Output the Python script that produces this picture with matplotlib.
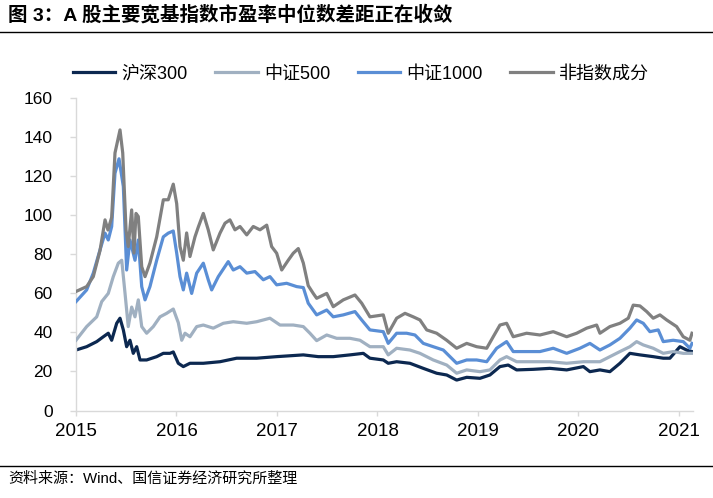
import matplotlib
matplotlib.use("Agg")
import matplotlib.pyplot as plt
from matplotlib.lines import Line2D

plt.rcParams['font.family'] = ['Liberation Sans', 'Noto Sans CJK SC', 'DejaVu Sans']

# ---------------- data (decimal year, PE median) ----------------
hs300_t = [2015.0, 2015.106, 2015.206, 2015.272, 2015.321, 2015.355, 2015.405, 2015.438, 2015.471,
           2015.504, 2015.537, 2015.57, 2015.604, 2015.637, 2015.703, 2015.803, 2015.869, 2015.935,
           2015.968, 2016.018, 2016.068, 2016.134, 2016.267, 2016.433, 2016.599, 2016.798, 2016.997,
           2017.262, 2017.411, 2017.56, 2017.726, 2017.859, 2017.925, 2018.058, 2018.107, 2018.191,
           2018.323, 2018.456, 2018.589, 2018.689, 2018.788, 2018.888, 2019.02, 2019.119, 2019.219,
           2019.301, 2019.385, 2019.55, 2019.716, 2019.883, 2020.049, 2020.114, 2020.214, 2020.313,
           2020.413, 2020.512, 2020.612, 2020.744, 2020.844, 2020.91, 2021.01, 2021.076, 2021.13]
hs300_v = [31, 32.7, 35.3, 37.8, 39.6, 36, 44.7, 47.3, 41.3,
           32.7, 36, 29.3, 32.7, 25.9, 25.9, 27.6, 29.3, 29.3,
           30, 24.2, 22.5, 24.2, 24.2, 25, 26.8, 26.8, 27.6,
           28.5, 27.6, 27.6, 28.5, 29.3, 26.8, 25.9, 24.2, 25,
           24.2, 21.6, 19.1, 18.2, 15.6, 17, 16.5, 18.2, 22.5,
           23.3, 20.8, 21.1, 21.6, 20.8, 22.5, 19.9, 20.8, 19.9,
           24.2, 29.3, 28.5, 27.6, 26.8, 26.8, 32.7, 31, 30.2]

zz500_t = [2015.0, 2015.106, 2015.206, 2015.256, 2015.321, 2015.371, 2015.421, 2015.455, 2015.488,
           2015.52, 2015.554, 2015.587, 2015.62, 2015.654, 2015.703, 2015.769, 2015.836, 2015.902,
           2015.968, 2016.018, 2016.052, 2016.085, 2016.134, 2016.201, 2016.267, 2016.366, 2016.466,
           2016.565, 2016.699, 2016.798, 2016.93, 2017.03, 2017.162, 2017.262, 2017.328, 2017.395,
           2017.495, 2017.594, 2017.726, 2017.826, 2017.925, 2018.058, 2018.107, 2018.191, 2018.323,
           2018.423, 2018.555, 2018.689, 2018.788, 2018.888, 2019.02, 2019.119, 2019.219, 2019.285,
           2019.385, 2019.55, 2019.716, 2019.883, 2020.049, 2020.214, 2020.313, 2020.413, 2020.512,
           2020.579, 2020.645, 2020.744, 2020.844, 2020.943, 2021.043, 2021.13]
zz500_v = [36, 43, 48, 55.8, 60, 68.6, 75.5, 77, 60,
           43, 53, 48, 56.7, 43, 39.6, 43, 48, 49.8,
           52, 45, 36, 39.6, 37.8, 43, 43.8, 42.2, 44.7,
           45.5, 44.7, 45.5, 47.3, 43.8, 43.8, 43, 39.6, 35.8,
           38.7, 37, 37, 36, 32.7, 32.7, 28.5, 31.9, 31,
           29.3, 25.9, 23.3, 19.1, 20.8, 19.9, 20.8, 25.9, 27.6,
           25, 25, 25, 24.2, 25, 25, 27.6, 30.2, 32.7,
           35.3, 33.6, 31.9, 29.3, 30.2, 29.3, 29.3]

zz1000_t = [2015.0, 2015.106, 2015.172, 2015.239, 2015.289, 2015.321, 2015.355, 2015.388, 2015.428,
            2015.471, 2015.504, 2015.537, 2015.587, 2015.62, 2015.654, 2015.687, 2015.736, 2015.803,
            2015.869, 2015.918, 2015.968, 2016.002, 2016.035, 2016.068, 2016.101, 2016.151, 2016.201,
            2016.267, 2016.316, 2016.35, 2016.416, 2016.515, 2016.565, 2016.632, 2016.699, 2016.781,
            2016.864, 2016.93, 2016.997, 2017.096, 2017.196, 2017.262, 2017.311, 2017.395, 2017.495,
            2017.56, 2017.66, 2017.776, 2017.843, 2017.925, 2018.058, 2018.107, 2018.191, 2018.29,
            2018.373, 2018.456, 2018.555, 2018.655, 2018.788, 2018.888, 2018.987, 2019.087, 2019.186,
            2019.285, 2019.351, 2019.484, 2019.617, 2019.749, 2019.883, 2020.015, 2020.114, 2020.214,
            2020.313, 2020.413, 2020.512, 2020.579, 2020.645, 2020.711, 2020.794, 2020.844, 2020.943,
            2021.043, 2021.109, 2021.13]
zz1000_v = [55.8, 61.8, 70.4, 82.3, 90.9, 87.4, 94.3, 121.6, 129,
            114.8, 72, 87.4, 77, 87.4, 63.5, 56.7, 63.5, 77,
            89, 90.9, 92, 80.7, 68.6, 61.8, 70.4, 60, 70.4,
            75.5, 67, 61.8, 68.6, 76.3, 72, 73.7, 70.4, 71.2,
            67, 68.6, 64.4, 65.2, 63.5, 63, 55, 49, 51.5,
            48, 49, 50.7, 46.4, 41.3, 40.4, 34.4, 39.6, 39.6,
            38.7, 34.4, 32.7, 31, 24.2, 25.9, 25.9, 25, 31.9,
            35.3, 30.2, 30.2, 30.2, 31.9, 29.3, 31.9, 34.4, 31,
            33.6, 37, 42.2, 46.4, 44.7, 40.4, 41.3, 35.3, 36,
            35.3, 31.9, 34.4]

nonidx_t = [2015.0, 2015.106, 2015.172, 2015.239, 2015.289, 2015.318, 2015.355, 2015.388, 2015.438,
            2015.465, 2015.498, 2015.52, 2015.554, 2015.577, 2015.597, 2015.62, 2015.654, 2015.687,
            2015.736, 2015.803, 2015.869, 2015.918, 2015.968, 2016.002, 2016.035, 2016.068, 2016.101,
            2016.134, 2016.184, 2016.217, 2016.267, 2016.316, 2016.366, 2016.433, 2016.483, 2016.532,
            2016.582, 2016.632, 2016.699, 2016.764, 2016.831, 2016.898, 2016.947, 2016.997, 2017.047,
            2017.112, 2017.162, 2017.212, 2017.262, 2017.311, 2017.361, 2017.395, 2017.495, 2017.56,
            2017.66, 2017.776, 2017.843, 2017.925, 2018.058, 2018.107, 2018.191, 2018.274, 2018.356,
            2018.423, 2018.49, 2018.589, 2018.689, 2018.788, 2018.888, 2018.987, 2019.087, 2019.152,
            2019.219, 2019.285, 2019.351, 2019.484, 2019.617, 2019.749, 2019.883, 2019.982, 2020.082,
            2020.181, 2020.214, 2020.313, 2020.413, 2020.496, 2020.545, 2020.612, 2020.679, 2020.744,
            2020.811, 2020.878, 2020.977, 2021.043, 2021.109, 2021.13]
nonidx_v = [61, 63.5, 68.6, 82, 97.7, 92.5, 99, 132, 143.8,
            132, 92.5, 84, 102.8, 80.7, 101, 99.4, 73.7, 68.6,
            75.6, 89, 108, 108, 116, 106, 84, 77, 91,
            78.9, 89, 94, 101, 92.6, 82.3, 90.9, 96, 97.7,
            92.6, 94.3, 90, 94.3, 92.6, 95, 84, 80.6, 72,
            77, 80.6, 83, 75.6, 64, 60, 57.5, 60, 53.2,
            56.7, 59.2, 55, 48, 49, 39.6, 47.3, 49.8, 48,
            46.4, 41.3, 39.6, 36, 31.9, 34.4, 32.7, 31.9, 37.8,
            43.8, 44.7, 37.8, 39.6, 38.7, 40.4, 37.8, 39.6, 42.2,
            43.8, 39.6, 43, 44.7, 47.3, 54, 53.6, 50.7, 47.3,
            49, 46.4, 43, 37.8, 36, 39.6]

series_names = ['沪深300', '中证500', '中证1000', '非指数成分']
year_ticks = [2015, 2016, 2017, 2018, 2019, 2020, 2021]
year_labels = ['2015', '2016', '2017', '2018', '2019', '2020', '2021']
y_ticks = [0, 20, 40, 60, 80, 100, 120, 140, 160]

title = '图 3：A 股主要宽基指数市盈率中位数差距正在收敛'
source = '资料来源：Wind、国信证券经济研究所整理'

colors = ['#0c2850', '#a0b0c1', '#5a8ed5', '#808080']

# ---------------- figure ----------------
W, H = 713, 498
fig = plt.figure(figsize=(W / 100, H / 100), dpi=100)
ax = fig.add_axes([76 / W, 1 - 410.5 / H, (693 - 76) / W, (410.5 - 98.3) / H])

data = [(hs300_t, hs300_v), (zz500_t, zz500_v), (zz1000_t, zz1000_v), (nonidx_t, nonidx_v)]
handles = []
for i, ((t, v), name, c) in enumerate(zip(data, series_names, colors)):
    ln, = ax.plot(t, v, color=c, lw=2.3, label=name, zorder=2 + i, solid_joinstyle='round')
    handles.append(ln)

ax.set_xlim(2015.0, 2021.14)
ax.set_ylim(0, 160)
ax.set_xticks(year_ticks)
ax.set_xticklabels(year_labels)
ax.set_yticks(y_ticks)

for s in ['top', 'right']:
    ax.spines[s].set_visible(False)
for s in ['left', 'bottom']:
    ax.spines[s].set_color('#d9d9d9')
    ax.spines[s].set_linewidth(1.0)

ax.tick_params(axis='y', direction='out', length=4.3, width=1.0, color='#d9d9d9',
               labelsize=12.5, pad=12.5, labelcolor='black')
ax.tick_params(axis='x', direction='out', length=3.6, width=1.0, color='#d9d9d9',
               labelsize=13.5, pad=5.5, labelcolor='black')

# legend
fig.legend(handles=handles, labels=series_names, loc='center left',
           bbox_to_anchor=(72.7 / W, 1 - 74 / H), ncol=4, frameon=False,
           fontsize=13, handlelength=2.35, handletextpad=0.37, columnspacing=1.5,
           borderpad=0, borderaxespad=0)

# title, rules, source
fig.text(8 / W, 1 - 14.5 / H, title, fontsize=14, fontweight='bold', ha='left', va='center')
fig.add_artist(Line2D([0, 1], [1 - 32.3 / H] * 2, color='black', lw=1.0, transform=fig.transFigure))
fig.add_artist(Line2D([0, 1], [1 - 466 / H] * 2, color='black', lw=1.0, transform=fig.transFigure))
fig.text(8.3 / W, 1 - 479 / H, source, fontsize=10.8, ha='left', va='center')

fig.savefig('out.png', dpi=100)
